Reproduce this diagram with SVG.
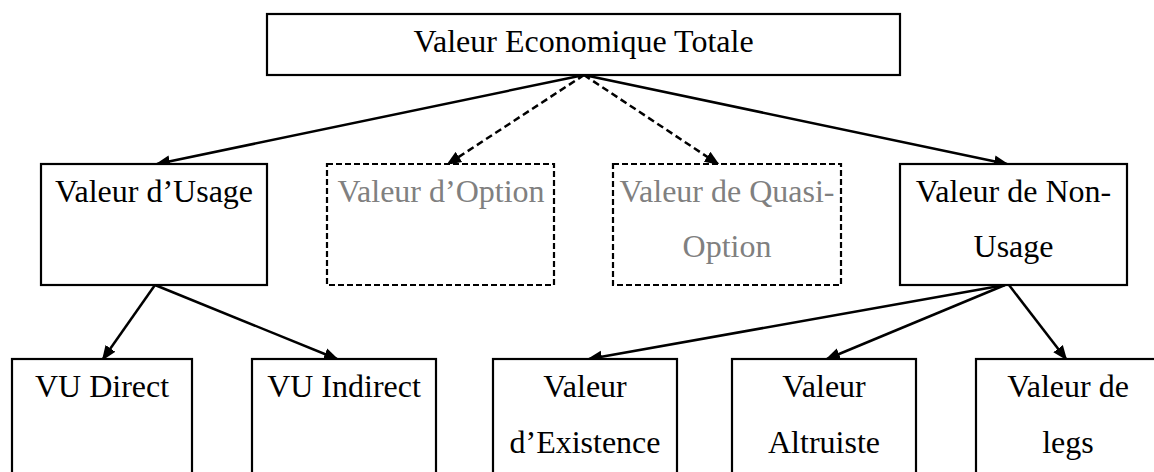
<svg xmlns="http://www.w3.org/2000/svg" width="1154" height="472" viewBox="0 0 1154 472">
<style>
  .box{fill:#fff;stroke:#000;stroke-width:2.2}
  .dbox{fill:#fff;stroke:#000;stroke-width:2.2;stroke-dasharray:6 3}
  .t{font-family:"Liberation Serif","Times New Roman",serif;font-size:32px;fill:#000;text-anchor:middle}
  .g{fill:#808080}
  .c{stroke:#000;stroke-width:2.5;fill:none}
  .d{stroke-dasharray:7 4}
</style>
<defs>
  <marker id="ah" markerUnits="userSpaceOnUse" markerWidth="15" markerHeight="13" refX="13" refY="6" orient="auto" viewBox="0 0 15 12">
    <path d="M0,0 L15,6 L0,12 z" fill="#000"/>
  </marker>
</defs>
<rect width="1154" height="472" fill="#fff"/>
<g id="connectors">
  <line class="c" x1="584" y1="75" x2="157" y2="164" marker-end="url(#ah)"/>
  <line class="c d" x1="584" y1="75" x2="448" y2="164" marker-end="url(#ah)"/>
  <line class="c d" x1="584" y1="75" x2="718" y2="164" marker-end="url(#ah)"/>
  <line class="c" x1="584" y1="75" x2="1007" y2="164" marker-end="url(#ah)"/>
  <line class="c" x1="155" y1="285" x2="103" y2="359" marker-end="url(#ah)"/>
  <line class="c" x1="155" y1="285" x2="337" y2="359" marker-end="url(#ah)"/>
  <line class="c" x1="1005" y1="285" x2="589" y2="359" marker-end="url(#ah)"/>
  <line class="c" x1="1005" y1="285" x2="827" y2="359" marker-end="url(#ah)"/>
  <line class="c" x1="1009" y1="285" x2="1066" y2="359" marker-end="url(#ah)"/>
</g>
<g id="vet">
  <rect class="box" x="267" y="14" width="633" height="61"/>
  <text class="t" x="583.5" y="52">Valeur Economique Totale</text>
</g>
<g id="usage">
  <rect class="box" x="41" y="164" width="226" height="121"/>
  <text class="t" x="154" y="202">Valeur d’Usage</text>
</g>
<g id="option">
  <rect class="dbox" x="327" y="164" width="227" height="121"/>
  <text class="t g" x="441" y="202">Valeur d’Option</text>
</g>
<g id="quasi">
  <rect class="dbox" x="613" y="164" width="228" height="121"/>
  <text class="t g" x="727" y="202">Valeur de Quasi-</text>
  <text class="t g" x="727" y="257">Option</text>
</g>
<g id="nonusage">
  <rect class="box" x="900" y="164" width="227" height="121"/>
  <text class="t" x="1013.5" y="202">Valeur de Non-</text>
  <text class="t" x="1013.5" y="257">Usage</text>
</g>
<g id="vudirect">
  <rect class="box" x="12" y="359" width="180" height="130"/>
  <text class="t" x="102" y="397">VU Direct</text>
</g>
<g id="vuindirect">
  <rect class="box" x="252" y="359" width="184" height="130"/>
  <text class="t" x="344" y="397">VU Indirect</text>
</g>
<g id="existence">
  <rect class="box" x="493" y="359" width="184" height="130"/>
  <text class="t" x="585" y="397">Valeur</text>
  <text class="t" x="585" y="453">d’Existence</text>
</g>
<g id="altruiste">
  <rect class="box" x="732" y="359" width="184" height="130"/>
  <text class="t" x="824" y="397">Valeur</text>
  <text class="t" x="824" y="453">Altruiste</text>
</g>
<g id="legs">
  <rect class="box" x="976" y="359" width="184" height="130"/>
  <text class="t" x="1068" y="397">Valeur de</text>
  <text class="t" x="1068" y="453">legs</text>
</g>
</svg>
